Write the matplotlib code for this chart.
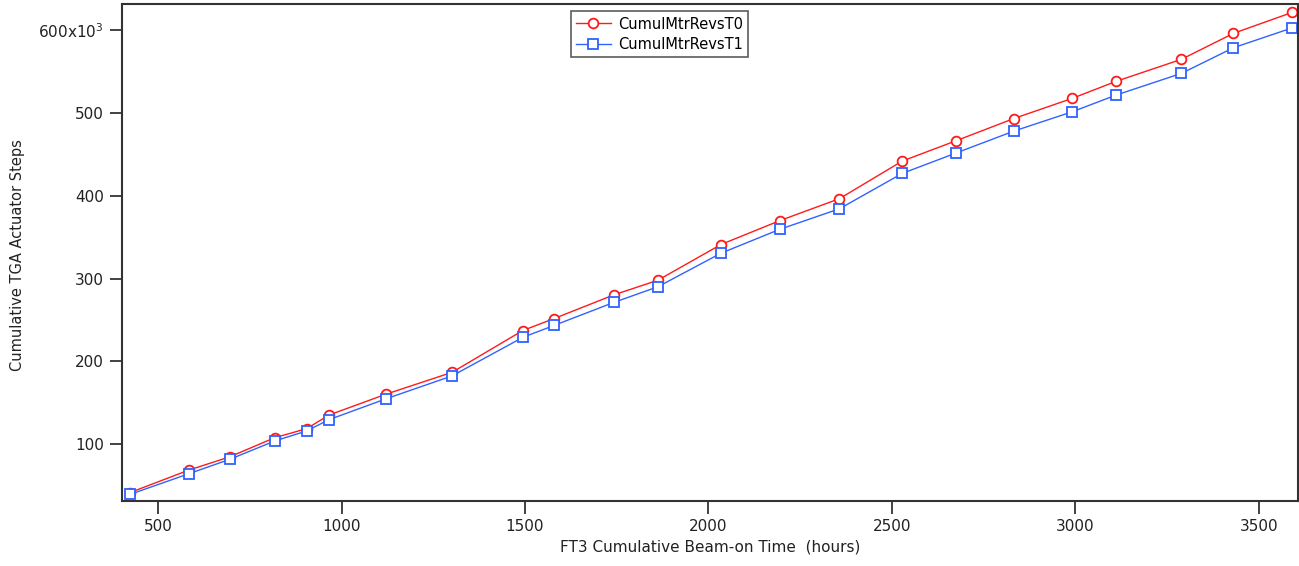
import matplotlib.pyplot as plt
from matplotlib.ticker import FuncFormatter

# FT3 cumulative beam-on time (hours)
hours = [423, 583, 695, 818, 905, 966, 1122, 1301, 1494, 1579, 1743, 1862,
         2034, 2194, 2357, 2528, 2676, 2832, 2992, 3111, 3289, 3431, 3591]

# cumulative actuator steps, in thousands
revs_t0 = [41.5, 68.6, 84.7, 107.9, 118.8, 135.3, 160.6, 186.8, 237.4, 251.8,
           280.6, 298.1, 341.3, 370.1, 396.7, 442.1, 466.9, 493.5, 518.0,
           538.5, 565.1, 596.5, 621.8]
revs_t1 = [39.3, 64.2, 81.7, 103.9, 116.1, 129.7, 155.0, 182.5, 229.1, 243.5,
           271.5, 290.2, 330.8, 359.6, 384.5, 427.2, 452.1, 478.3, 501.8,
           521.9, 548.1, 579.1, 603.1]

RED = '#ff1a1a'
BLUE = '#2f62ff'

fig = plt.figure(figsize=(12.99, 5.66), dpi=100)
ax = fig.add_axes([0.094, 0.115, 0.905, 0.878])

ax.plot(hours, [v * 1000 for v in revs_t0], color=RED, lw=1.0, marker='o',
        ms=7, mfc='white', mec=RED, mew=1.3, label='CumulMtrRevsT0')
ax.plot(hours, [v * 1000 for v in revs_t1], color=BLUE, lw=1.0, marker='s',
        ms=7, mfc='white', mec=BLUE, mew=1.3, label='CumulMtrRevsT1')

ax.set_xlim(402, 3606)
ax.set_ylim(31500, 632000)
ax.set_xticks([500, 1000, 1500, 2000, 2500, 3000, 3500])
ax.set_yticks([100000, 200000, 300000, 400000, 500000, 600000])


def fmt_y(v, pos):
    k = int(round(v / 1000))
    if k == 600:
        return '600x10$^3$'
    return str(k)


ax.yaxis.set_major_formatter(FuncFormatter(fmt_y))
ax.tick_params(direction='out', length=9, width=1.2, labelsize=11,
               colors='#222222', pad=4)
for s in ax.spines.values():
    s.set_linewidth(1.5)
    s.set_color('#333333')

ax.set_xlabel('FT3 Cumulative Beam-on Time  (hours)', fontsize=11, color='#222222')
ax.set_ylabel('Cumulative TGA Actuator Steps', fontsize=10.5, color='#222222')
ax.yaxis.set_label_coords(-0.083, 0.495)

leg = ax.legend(loc='upper left', bbox_to_anchor=(0.3815, 0.985), fontsize=10.5,
                frameon=True, fancybox=False, edgecolor='#333333',
                borderpad=0.35, handlelength=2.4, handletextpad=0.5,
                labelspacing=0.4, borderaxespad=0)
leg.get_frame().set_linewidth(1.2)

fig.savefig('out.png', dpi=100)
